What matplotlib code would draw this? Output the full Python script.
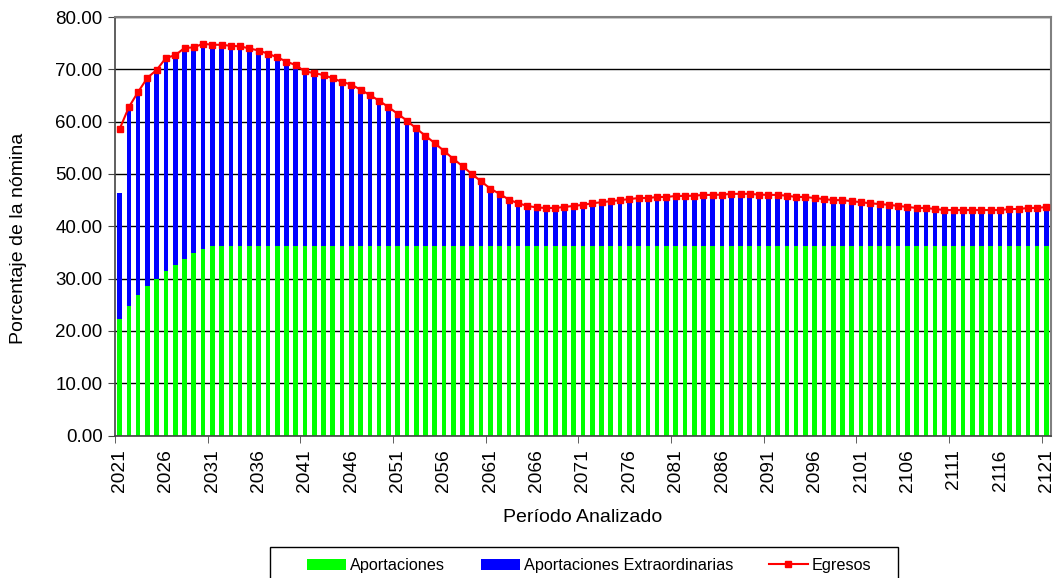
import matplotlib.pyplot as plt
from matplotlib.patches import Rectangle
import numpy as np

plt.rcParams['font.family'] = ['Liberation Sans', 'DejaVu Sans']

years = list(range(2021, 2122))

aportaciones = [22.3, 24.8, 26.9, 28.6, 29.95, 31.4, 32.6, 33.8, 34.9, 35.7] + [36.25] * 91

extraordinarias = [
    24.05, 38.0, 38.8, 39.8, 39.95, 40.8, 40.1, 40.3, 39.3, 39.2,
    38.45, 38.45, 38.25, 38.15, 37.75, 37.35, 36.75, 36.05, 35.25, 34.55,
    33.35, 33.05, 32.65, 32.05, 31.35, 30.85, 29.85, 28.85, 27.75, 26.55,
    25.25, 23.95, 22.45, 21.05, 19.65, 18.15, 16.65, 15.25, 13.75, 12.35,
    10.95, 9.95, 8.85, 8.15, 7.65, 7.35, 7.25, 7.25, 7.45, 7.65,
    7.85, 8.15, 8.35, 8.55, 8.75, 8.95, 9.15, 9.15, 9.35, 9.35,
    9.55, 9.55, 9.6, 9.75, 9.75, 9.8, 9.95, 9.95, 9.95, 9.8,
    9.75, 9.75, 9.6, 9.35, 9.35, 9.15, 8.95, 8.75, 8.75, 8.55,
    8.35, 8.15, 8.0, 7.85, 7.65, 7.45, 7.25, 7.25, 7.05, 6.85,
    6.85, 6.85, 6.85, 6.85, 6.85, 6.85, 7.05, 7.05, 7.25, 7.25,
    7.45,
]

egresos = [
    58.6, 62.8, 65.7, 68.4, 69.9, 72.2, 72.7, 74.1, 74.2, 74.9,
    74.7, 74.7, 74.5, 74.4, 74.0, 73.6, 73.0, 72.3, 71.5, 70.8,
    69.6, 69.3, 68.9, 68.3, 67.6, 67.1, 66.1, 65.1, 64.0, 62.8,
    61.5, 60.2, 58.7, 57.3, 55.9, 54.4, 52.9, 51.5, 50.0, 48.6,
    47.2, 46.2, 45.1, 44.4, 43.9, 43.6, 43.5, 43.5, 43.7, 43.9,
    44.1, 44.4, 44.6, 44.8, 45.0, 45.2, 45.4, 45.4, 45.6, 45.6,
    45.8, 45.8, 45.85, 46.0, 46.0, 46.05, 46.2, 46.2, 46.2, 46.05,
    46.0, 46.0, 45.85, 45.6, 45.6, 45.4, 45.2, 45.0, 45.0, 44.8,
    44.6, 44.4, 44.25, 44.1, 43.9, 43.7, 43.5, 43.5, 43.3, 43.1,
    43.1, 43.1, 43.1, 43.1, 43.1, 43.1, 43.3, 43.3, 43.5, 43.5,
    43.7,
]

x = np.arange(len(years))

fig = plt.figure(figsize=(10.6, 5.78), dpi=100)
ax = fig.add_axes([0.1085, 0.2465, 0.883, 0.724])

b1 = ax.bar(x, aportaciones, 0.5, color='#00ff00', label='Aportaciones', zorder=2)
b2 = ax.bar(x, extraordinarias, 0.5, bottom=aportaciones, color='#0000ff',
            label='Aportaciones Extraordinarias', zorder=2)
l1, = ax.plot(x, egresos, color='#ff0000', lw=1.5, marker='s', markersize=5,
              label='Egresos', zorder=3)

ax.set_xlim(-0.5, len(years) - 0.5)
ax.set_ylim(0, 80)
ax.set_yticks(np.arange(0, 81, 10))
ax.set_yticklabels([f'{v:.2f}' for v in np.arange(0, 81, 10)], fontsize=13.5)
ax.yaxis.grid(True, color='black', lw=1, zorder=0)
ax.set_axisbelow(True)

# labels every 5 years on bar centres, tick marks every 10 categories
ax.set_xticks(x[::5])
ax.set_xticklabels([str(y) for y in years[::5]], rotation=90, fontsize=13.8)
ax.tick_params(axis='x', length=0, pad=10)
ax.set_xticks(np.arange(-0.5, len(years), 10), minor=True)
ax.tick_params(axis='x', which='minor', length=5, color='#444444')
ax.tick_params(axis='y', length=5, color='#444444', pad=4)

for s in ['top', 'right']:
    ax.spines[s].set_color('#808080')
    ax.spines[s].set_linewidth(1.5)
for s in ['left', 'bottom']:
    ax.spines[s].set_color('#444444')
    ax.spines[s].set_linewidth(1.2)

ax.set_xlabel('Período Analizado', fontsize=14)
ax.xaxis.set_label_coords(0.5, -0.195)
ax.xaxis.label.set_va('center')
ax.set_ylabel('Porcentaje de la nómina', fontsize=14)
ax.yaxis.set_label_coords(-0.1036, 0.47)
ax.yaxis.label.set_va('center')

leg = fig.legend([b1, b2, l1], ['Aportaciones', 'Aportaciones Extraordinarias', 'Egresos'],
                 loc='upper center', bbox_to_anchor=(0.5557, 1 - 550 / 578), ncol=3,
                 fontsize=11.7, frameon=False,
                 columnspacing=2.2, handlelength=2.4, handletextpad=0.25,
                 borderpad=0.5, borderaxespad=0)

# legend frame wider than its content, as in the original
fig.patches.append(Rectangle((270 / 1060, -0.05), 628 / 1060, 0.05 + 31 / 578,
                             transform=fig.transFigure, fill=False,
                             edgecolor='black', lw=1.0))

fig.savefig('out.png', dpi=100)
